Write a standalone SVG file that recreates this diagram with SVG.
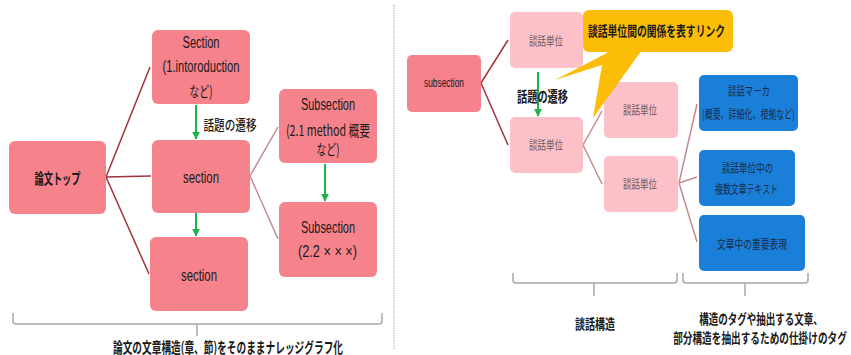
<svg xmlns="http://www.w3.org/2000/svg" width="851" height="355" viewBox="0 0 851 355">
<defs>
<marker id="ga" viewBox="0 0 10 10" refX="9" refY="5" markerWidth="4" markerHeight="4" orient="auto" markerUnits="strokeWidth">
<path d="M0,0 L10,5 L0,10 z" fill="#1db34c"/>
</marker>
<style>
.red{fill:#f6828c}
.lp{fill:#fbc0c8}
.blue{fill:#1a7fd8}
.lat{font-family:"Liberation Sans",Arial,sans-serif;fill:#1a1a1a;text-anchor:middle;dominant-baseline:central}
.jp{font-family:"Noto Sans CJK JP","Noto Sans CJK SC",sans-serif;fill:#1a1a1a;text-anchor:middle;dominant-baseline:central}
.gray{fill:#6a5a5e}
.navy{fill:#1c2c48}
.dk{stroke:#a3323a;stroke-width:1.5;fill:none}
.lt{stroke:#c48a8e;stroke-width:1.5;fill:none}
.gr{stroke:#1db34c;stroke-width:2;fill:none;marker-end:url(#ga)}
.br{stroke:#a8a8a8;stroke-width:1.5;fill:none}
</style>
</defs>
<rect width="851" height="355" fill="#ffffff"/>
<line x1="394" y1="5" x2="394" y2="350" stroke="#aaaaaa" stroke-width="1" stroke-dasharray="1.5,1"/>

<g id="connectors">
<path class="dk" d="M106,177 L150,67 M106,177 L151,176 M106,177 L149,274"/>
<path class="lt" d="M250,176 L278,127 M250,176 L278,239"/>
<path class="gr" d="M196,105 V139"/>
<path class="gr" d="M196,213 V236"/>
<path class="gr" d="M325,164 V201"/>
<path class="dk" d="M481,83 L508,40 M481,83 L508,145"/>
<path class="lt" d="M583,145 L602,111 M583,145 L602,184"/>
<path class="lt" d="M679,183 L697,104 M679,183 L697,177 M679,183 L697,242"/>
<path class="gr" d="M538,72 V116"/>
</g>

<g id="n-top"><rect class="red" x="9" y="141" width="97" height="73" rx="6"/>
<text class="jp" x="57.5" y="177" font-size="15" font-weight="bold" textLength="46" lengthAdjust="spacingAndGlyphs">論文トップ</text></g>

<g id="n-sec1"><rect class="red" x="152" y="30" width="98" height="74" rx="6"/>
<text class="lat" x="201" y="42" font-size="16" textLength="37" lengthAdjust="spacingAndGlyphs">Section</text>
<text class="lat" x="201" y="66" font-size="16" textLength="77" lengthAdjust="spacingAndGlyphs">(1.intoroduction</text>
<text class="jp" x="201" y="90" font-size="15" textLength="23" lengthAdjust="spacingAndGlyphs">など)</text></g>

<g id="n-sec2"><rect class="red" x="152" y="140" width="98" height="73" rx="6"/>
<text class="lat" x="201" y="177" font-size="16" textLength="36" lengthAdjust="spacingAndGlyphs">section</text></g>

<g id="n-sec3"><rect class="red" x="150" y="237" width="98" height="74" rx="6"/>
<text class="lat" x="199" y="275" font-size="16" textLength="36" lengthAdjust="spacingAndGlyphs">section</text></g>

<g id="n-sub1"><rect class="red" x="279" y="89" width="98" height="74" rx="6"/>
<text class="lat" x="328" y="104" font-size="16" textLength="54" lengthAdjust="spacingAndGlyphs">Subsection</text>
<text class="jp" x="328" y="129" font-size="15" textLength="84" lengthAdjust="spacingAndGlyphs">(2.1 method 概要</text>
<text class="jp" x="328" y="148" font-size="15" textLength="23" lengthAdjust="spacingAndGlyphs">など)</text></g>

<g id="n-sub2"><rect class="red" x="279" y="202" width="98" height="75" rx="6"/>
<text class="lat" x="328" y="227" font-size="16" textLength="54" lengthAdjust="spacingAndGlyphs">Subsection</text>
<text class="lat" x="327.5" y="251" font-size="16" textLength="59" lengthAdjust="spacingAndGlyphs">(2.2 × × ×)</text></g>

<text class="jp" x="230" y="124" font-size="14" font-weight="500" textLength="53" lengthAdjust="spacingAndGlyphs">話題の遷移</text>

<path class="br" d="M13,313 V321 Q13,324 16,324 H379 Q382,324 382,321 V313 M197,324 V336"/>
<text class="jp" x="228" y="346" font-size="15" font-weight="bold" textLength="230" lengthAdjust="spacingAndGlyphs">論文の文章構造(章、節)をそのままナレッジグラフ化</text>

<g id="n-subsec"><rect class="red" x="407" y="55" width="74" height="57" rx="5"/>
<text class="lat" x="444" y="83" font-size="12" textLength="40" lengthAdjust="spacingAndGlyphs">subsection</text></g>

<g id="n-du1"><rect class="lp" x="510" y="12" width="73" height="56" rx="5"/>
<text class="jp gray" x="546" y="40" font-size="12" textLength="34" lengthAdjust="spacingAndGlyphs">談話単位</text></g>
<g id="n-du2"><rect class="lp" x="510" y="117" width="73" height="56" rx="5"/>
<text class="jp gray" x="546" y="144" font-size="12" textLength="34" lengthAdjust="spacingAndGlyphs">談話単位</text></g>
<g id="n-du3"><rect class="lp" x="604" y="82" width="74" height="56" rx="5"/>
<text class="jp gray" x="640" y="109" font-size="12" textLength="34" lengthAdjust="spacingAndGlyphs">談話単位</text></g>
<g id="n-du4"><rect class="lp" x="604" y="156" width="74" height="56" rx="5"/>
<text class="jp gray" x="640" y="183" font-size="12" textLength="34" lengthAdjust="spacingAndGlyphs">談話単位</text></g>

<g id="n-b1"><rect class="blue" x="699" y="75" width="99" height="56" rx="5"/>
<text class="jp navy" x="749" y="90" font-size="12" textLength="42" lengthAdjust="spacingAndGlyphs">談話マーカ</text>
<text class="jp navy" x="748.5" y="113" font-size="12" textLength="93" lengthAdjust="spacingAndGlyphs">(概要、詳細化、根拠など)</text></g>
<g id="n-b2"><rect class="blue" x="699" y="150" width="96" height="56" rx="5"/>
<text class="jp navy" x="747.5" y="167" font-size="12" textLength="51" lengthAdjust="spacingAndGlyphs">談話単位中の</text>
<text class="jp navy" x="746.5" y="188" font-size="12" textLength="63" lengthAdjust="spacingAndGlyphs">複数文章テキスト</text></g>
<g id="n-b3"><rect class="blue" x="699" y="215" width="106" height="56" rx="5"/>
<text class="jp navy" x="752" y="243" font-size="12" textLength="70" lengthAdjust="spacingAndGlyphs">文章中の重要表現</text></g>

<text class="jp" x="542.5" y="95" font-size="15" font-weight="bold" textLength="51" lengthAdjust="spacingAndGlyphs">話題の遷移</text>

<g id="n-callout">
<path d="M642,50 L607,50 L607,53 L555,80 L602,65 L593,118 Z" fill="#fbbd08"/>
<rect x="583" y="10" width="150" height="42" rx="6" fill="#fbbd08"/>
<text class="jp" x="656.5" y="30" font-size="14" font-weight="bold" textLength="137" lengthAdjust="spacingAndGlyphs">談話単位間の関係を表すリンク</text>
</g>

<path class="br" d="M513,273 V280 Q513,283 516,283 H674 Q677,283 677,280 V273 M594,283 V296"/>
<path class="br" d="M683,273 V280 Q683,283 686,283 H805 Q808,283 808,280 V273 M745,283 V296"/>
<text class="jp" x="595" y="323" font-size="14" font-weight="bold" textLength="40" lengthAdjust="spacingAndGlyphs">談話構造</text>
<text class="jp" transform="translate(761,318) scale(0.68,1)" x="0" y="0" font-size="14" font-weight="bold">構造のタグや抽出する文章、</text>
<text class="jp" transform="translate(760,337) scale(0.69,1)" x="0" y="0" font-size="14" font-weight="bold">部分構造を抽出するための仕掛けのタグ</text>
</svg>
